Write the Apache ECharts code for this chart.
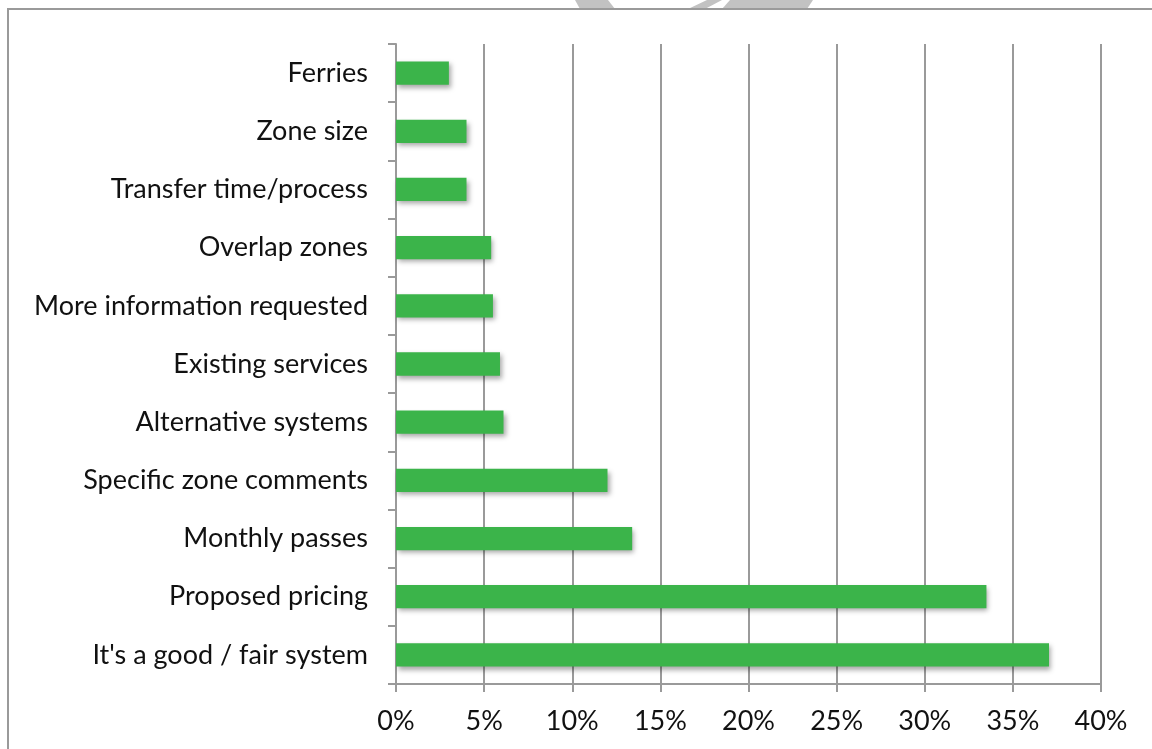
<!DOCTYPE html>
<html>
<head>
<meta charset="utf-8">
<script src="https://cdn.jsdelivr.net/npm/echarts@6/dist/echarts.min.js"></script>
<style>
  html, body { margin: 0; padding: 0; background: #fff; }
  #chart { width: 1152px; height: 749px; }
</style>
</head>
<body>
<div id="chart"></div>
<script>
// Comment themes, listed top to bottom
const categories = [
  'Ferries',
  'Zone size',
  'Transfer time/process',
  'Overlap zones',
  'More information requested',
  'Existing services',
  'Alternative systems',
  'Specific zone comments',
  'Monthly passes',
  'Proposed pricing',
  "It's a good / fair system"
];

// Share of comments (%)
const shares = [3.0, 4.0, 4.0, 5.4, 5.5, 5.9, 6.1, 12.0, 13.4, 33.5, 37.05];

// Percentage axis ticks
const tickStep = 5;
const axisMax = 40;

const FONT = 'Lato, "Open Sans", sans-serif';
const GREY = '#9a9a9a';

const chart = echarts.init(document.getElementById('chart'), null, { renderer: 'canvas' });

chart.setOption({
  animation: false,
  backgroundColor: '#ffffff',
  grid: { left: 396, right: 51, top: 44, bottom: 65, containLabel: false },
  xAxis: {
    type: 'value',
    min: 0,
    max: axisMax,
    interval: tickStep,
    axisLine: { show: true, lineStyle: { color: GREY, width: 2 } },
    axisTick: { show: true, length: 8, lineStyle: { color: GREY, width: 2 } },
    splitLine: { show: true, lineStyle: { color: GREY, width: 2 } },
    axisLabel: {
      formatter: v => v + '%',
      color: '#111',
      fontFamily: FONT,
      fontSize: 27,
      margin: 24
    }
  },
  yAxis: {
    type: 'category',
    data: categories,
    inverse: true,
    axisLine: { show: true, lineStyle: { color: GREY, width: 2 } },
    axisTick: { show: true, length: 8, lineStyle: { color: GREY, width: 2 } },
    axisLabel: {
      color: '#111',
      fontFamily: FONT,
      fontSize: 27,
      margin: 28,
      padding: [5, 0, 0, 0]
    }
  },
  series: [{
    type: 'bar',
    data: shares,
    barWidth: '40%',
    itemStyle: {
      color: '#3bb44a',
      shadowColor: 'rgba(0,0,0,0.35)',
      shadowBlur: 5,
      shadowOffsetX: 2,
      shadowOffsetY: 3
    }
  }],
  graphic: [
    // chart frame
    {
      type: 'rect',
      shape: { x: 8, y: 9, width: 1200, height: 800 },
      style: { fill: 'none', stroke: GREY, lineWidth: 2 },
      z: 10
    },
    // grey mark along the top edge
    {
      type: 'polygon',
      shape: { points: [[575, 0], [608, 0], [615, 9], [580, 9]] },
      style: { fill: '#c2c2c2' },
      z: 5
    },
    {
      type: 'polygon',
      shape: { points: [[707, 0], [722, 0], [705, 9], [688, 9]] },
      style: { fill: '#c2c2c2' },
      z: 5
    },
    {
      type: 'polygon',
      shape: { points: [[730, 0], [813, 0], [807, 9], [722, 9]] },
      style: { fill: '#c2c2c2' },
      z: 5
    }
  ]
});
</script>
</body>
</html>
